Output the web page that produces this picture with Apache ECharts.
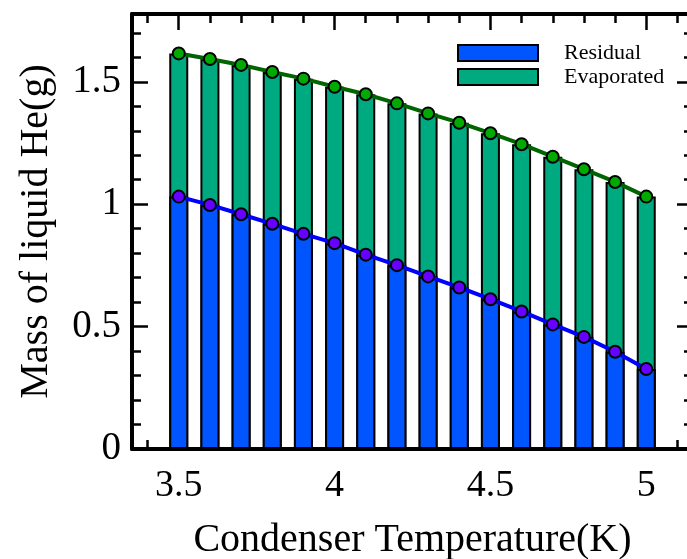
<!DOCTYPE html>
<html>
<head>
<meta charset="utf-8">
<script src="https://cdn.jsdelivr.net/npm/echarts@6/dist/echarts.min.js"></script>
<style>
html,body{margin:0;padding:0;background:#fff;}
#chart{width:687px;height:559px;}
</style>
</head>
<body>
<div id="chart"></div>
<script>
// Data
var temperatures = [3.5, 3.6, 3.7, 3.8, 3.9, 4.0, 4.1, 4.2, 4.3, 4.4, 4.5, 4.6, 4.7, 4.8, 4.9, 5.0];
var residual = [1.031, 0.997, 0.959, 0.920, 0.879, 0.841, 0.794, 0.751, 0.705, 0.660, 0.612, 0.562, 0.509, 0.458, 0.397, 0.327];
var total = [1.616, 1.593, 1.569, 1.540, 1.513, 1.480, 1.449, 1.412, 1.371, 1.333, 1.290, 1.245, 1.194, 1.143, 1.091, 1.031];
var xMajorTicks = [3.5, 4.0, 4.5, 5.0];
var xMinorTicks = [3.4, 3.6, 3.7, 3.8, 3.9, 4.1, 4.2, 4.3, 4.4, 4.6, 4.7, 4.8, 4.9, 5.1];
var yMajorTicks = [0, 0.5, 1.0, 1.5];
var yMinorTicks = [0.1, 0.2, 0.3, 0.4, 0.6, 0.7, 0.8, 0.9, 1.1, 1.2, 1.3, 1.4, 1.6, 1.7];
var xLabel = 'Condenser Temperature(K)';
var yLabel = 'Mass of liquid He(g)';

var FONT = '"Liberation Serif", "Times New Roman", serif';
var X_MIN = 3.35, X_MAX = 5.15, Y_MIN = 0, Y_MAX = 1.777;

function pairs(xs, ys) { return xs.map(function (x, i) { return [x, ys[i]]; }); }

function xAxisDef(pos, major, isMain) {
  return {
    type: 'value', position: pos, min: X_MIN, max: X_MAX,
    axisLine: { show: major, onZero: false, lineStyle: { color: '#000', width: 4 } },
    axisTick: { show: true, inside: true, length: major ? 16 : 9, customValues: major ? xMajorTicks : xMinorTicks,
      lineStyle: { color: '#000', width: 2.5 } },
    axisLabel: isMain ? { show: true, customValues: xMajorTicks, margin: 18, color: '#000', fontSize: 38, fontFamily: FONT } : { show: false },
    splitLine: { show: false },
    name: isMain ? xLabel : '', nameLocation: 'middle', nameGap: 71,
    nameTextStyle: { color: '#000', fontSize: 40, fontFamily: FONT }
  };
}
function yAxisDef(pos, major, isMain) {
  return {
    type: 'value', position: pos, min: Y_MIN, max: Y_MAX,
    axisLine: { show: major, onZero: false, lineStyle: { color: '#000', width: 4 } },
    axisTick: { show: true, inside: true, length: major ? 16 : 9, customValues: major ? yMajorTicks : yMinorTicks,
      lineStyle: { color: '#000', width: 2.5 } },
    axisLabel: isMain ? { show: true, customValues: yMajorTicks, margin: 11, color: '#000', fontSize: 39, fontFamily: FONT } : { show: false },
    splitLine: { show: false },
    name: isMain ? yLabel : '', nameLocation: 'middle', nameGap: 76, nameRotate: 90,
    nameTextStyle: { color: '#000', fontSize: 40, fontFamily: FONT }
  };
}

var chart = echarts.init(document.getElementById('chart'), null, { renderer: 'canvas' });
chart.setOption({
  animation: false,
  backgroundColor: '#fff',
  grid: { left: 132, right: -6, top: 14, bottom: 110, containLabel: false, outerBoundsMode: 'none' },
  legend: {
    data: ['Residual', 'Evaporated'],
    orient: 'vertical', left: 457, top: 42, padding: 0,
    itemWidth: 80, itemHeight: 16, itemGap: 2, icon: 'rect',
    itemStyle: { borderColor: '#000', borderWidth: 2 },
    textStyle: { color: '#000', fontSize: 22, fontFamily: FONT, padding: [0, 0, 0, 21] }
  },
  xAxis: [xAxisDef('bottom', true, true), xAxisDef('bottom', false, false), xAxisDef('top', true, false), xAxisDef('top', false, false)],
  yAxis: [yAxisDef('left', true, true), yAxisDef('left', false, false), yAxisDef('right', true, false), yAxisDef('right', false, false)],
  series: [
    { name: 'Evaporated', type: 'bar', xAxisIndex: 0, yAxisIndex: 0, barWidth: 19, barGap: '-100%',
      data: pairs(temperatures, total),
      itemStyle: { color: '#00aa80', borderColor: '#000', borderWidth: 2 } },
    { name: 'Residual', type: 'bar', xAxisIndex: 0, yAxisIndex: 0, barWidth: 19, barGap: '-100%',
      data: pairs(temperatures, residual),
      itemStyle: { color: '#0055ff', borderColor: '#000', borderWidth: 2 } },
    { name: 'Total line', type: 'line', xAxisIndex: 0, yAxisIndex: 0, z: 5,
      data: pairs(temperatures, total), symbol: 'circle', symbolSize: 12,
      lineStyle: { color: '#006400', width: 4 },
      itemStyle: { color: '#00aa00', borderColor: '#000', borderWidth: 2 } },
    { name: 'Residual line', type: 'line', xAxisIndex: 0, yAxisIndex: 0, z: 5,
      data: pairs(temperatures, residual), symbol: 'circle', symbolSize: 12,
      lineStyle: { color: '#0000ff', width: 4 },
      itemStyle: { color: '#6600ff', borderColor: '#000', borderWidth: 2 } }
  ]
});
</script>
</body>
</html>
